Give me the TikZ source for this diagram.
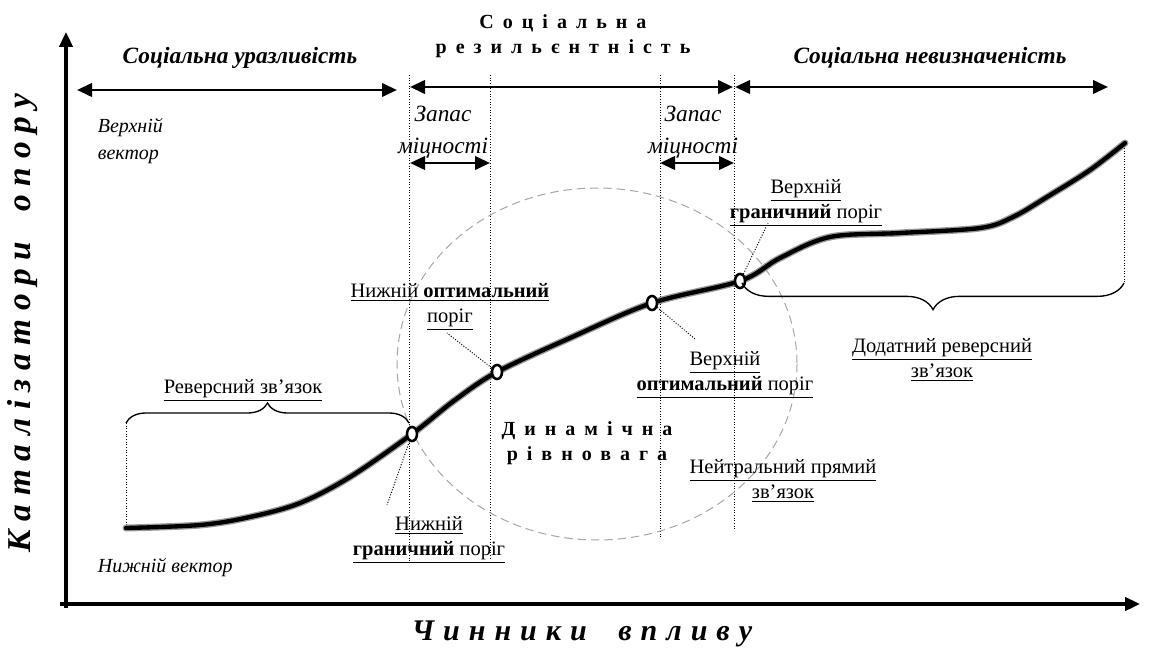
\documentclass[tikz,border=0pt]{standalone}
\usepackage{fontspec}
\setmainfont{Liberation Serif}
\newfontfamily\spaced[LetterSpace=45]{Liberation Serif}
\newfontfamily\xspaced[LetterSpace=30]{Liberation Serif}
\newfontfamily\yspaced[LetterSpace=26]{Liberation Serif}
\usetikzlibrary{arrows.meta}
\usetikzlibrary{decorations.pathreplacing}
\usetikzlibrary{shapes.geometric}

\begin{document}
\begin{tikzpicture} [x=0.6pt, y=-0.6pt,
  axis/.style={line width=2pt, -{Triangle[length=9pt,width=8pt]}},
  span/.style={line width=1.7pt, {Triangle[length=9pt,width=8pt]}-{Triangle[length=9pt,width=8pt]}},
  guide/.style={densely dotted, line width=0.6pt},
  lead/.style={densely dotted, line width=0.6pt},
  brc/.style={decorate, line width=0.8pt},
  pt/.style={ellipse, draw, fill=white, line width=1.5pt, minimum width=6pt, minimum height=8.5pt, inner sep=0pt},
  lbl/.style={align=center, font=\fontsize{12.3}{15}\selectfont},
  vec/.style={align=left, anchor=west, font=\fontsize{12}{16}\selectfont\itshape},
  head/.style={font=\fontsize{14}{16}\selectfont\bfseries\itshape},
  res/.style={align=center, font=\fontsize{14}{19}\selectfont\itshape},
  sp/.style={align=center, font=\fontsize{12}{15}\selectfont\spaced\bfseries},
  xax/.style={font=\fontsize{18}{20}\selectfont\xspaced\bfseries\itshape},
  yax/.style={font=\fontsize{20}{22}\selectfont\yspaced\bfseries\itshape}]
\useasboundingbox (0,0) rectangle (1152,652);

% axes
\coordinate (x0) at (60,604);  \coordinate (x1) at (1140,604);
\coordinate (y0) at (66,608);  \coordinate (y1) at (66,32);
\draw[axis] (x0) -- (x1);
\draw[axis] (y0) -- (y1);
\node[yax, rotate=90] (ylab) at (23,323) {Каталізатори\hspace{0.4em} опору};
\node[xax] (xlab) at (582,634) {Чинники\hspace{0.5em} впливу};

% zones
\foreach \x/\yb in {409/562, 490/560, 660/537, 734/531} \draw[guide] (\x,75) -- (\x,\yb);
\draw[guide] (126,423) -- (126,527);
\draw[guide] (1124,140) -- (1124,283);
\draw[gray!70, dash pattern=on 5pt off 3pt, line width=0.6pt] (597,364) ellipse [x radius=200, y radius=176];

\coordinate (a0) at (77,90);  \coordinate (a1) at (397,90);
\coordinate (b0) at (410,87); \coordinate (b1) at (733,87);
\coordinate (c0) at (735,87); \coordinate (c1) at (1108,87);
\draw[span] (a0) -- (a1);
\draw[span] (b0) -- (b1);
\draw[span] (c0) -- (c1);
\node[head] (vuln) at (240,58) {Соціальна уразливість};
\node[sp] (resil) at (563,36) {Соціальна\\резильєнтність};
\node[head] (uncert) at (930,58) {Соціальна невизначеність};

\coordinate (m0) at (410,163); \coordinate (m1) at (490,163);
\coordinate (n0) at (660,163); \coordinate (n1) at (734,163);
\draw[span] (m0) -- (m1);
\draw[span] (n0) -- (n1);
\node[res] (marg1) at (443,132) {Запас\\міцності};
\node[res] (marg2) at (693,132) {Запас\\міцності};

\node[vec] (upvec) at (92,141) {Верхній\\вектор};
\node[vec] (lowvec) at (92,568) {Нижній вектор};

% curve
\foreach \w/\c in {4.2pt/black!40, 2.6pt/black}
  \draw[line width=\w, \c, line cap=round] plot[smooth, tension=0.55] coordinates {(126,528) (200,525) (250,517) (300,503) (350,477) (412,434) (455,400) (497,372) (570,338) (652,303) (740,281) (780,258) (830,237) (900,233) (980,228) (1013,217) (1047,197) (1090,170) (1125,143)};

\node[pt] (p1) at (412,434) {};
\node[pt] (p2) at (497,372) {};
\node[pt] (p3) at (652,303) {};
\node[pt] (p4) at (740,281) {};

% labels
\coordinate (l1) at (387,505);
\coordinate (l2) at (447,333);
\coordinate (l3) at (695,339);
\coordinate (l4) at (768,223);
\draw[lead] (p1) -- (l1);
\draw[lead] (p2) -- (l2);
\draw[lead] (p3) -- (l3);
\draw[lead] (p4) -- (l4);

\node[lbl] (lowb) at (429,540) {\underline{Нижній}\\\underline{\textbf{граничний} поріг}};
\node[lbl] (lowo) at (450,307) {\underline{Нижній \textbf{оптимальний}}\\\underline{поріг}};
\node[lbl] (upo) at (725,375) {\underline{Верхній}\\\underline{\textbf{оптимальний} поріг}};
\node[lbl] (upb) at (806,203) {\underline{Верхній}\\\underline{\textbf{граничний} поріг}};
\node[sp] (dyn) at (587,443) {Динамічна\\рівновага};
\node[lbl] (neut) at (783,481) {\underline{Нейтральний прямий}\\\underline{зв’язок}};

\draw[brc, decoration={brace, amplitude=12pt}] (126,423) -- (409,423);
\node[lbl] (rev) at (243,390) {\underline{Реверсний зв’язок}};
\draw[brc, decoration={brace, amplitude=16pt}] (1124,283) -- (742,283);
\node[lbl] (posrev) at (942,360) {\underline{Додатний реверсний}\\\underline{зв’язок}};
\end{tikzpicture}
\end{document}
